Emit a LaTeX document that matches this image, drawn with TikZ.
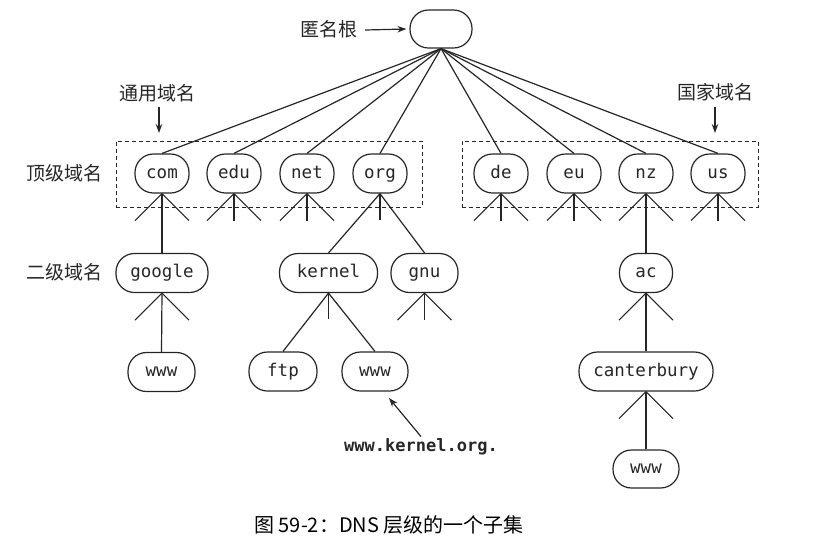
\documentclass[tikz,border=0pt]{standalone}
\usepackage{fontspec}
\setmonofont{DejaVu Sans Mono}
\newfontfamily\cjk{Noto Sans CJK SC}
\usetikzlibrary{arrows.meta}
\begin{document}
\begin{tikzpicture}[x=1pt,y=-1pt,
  ln/.style={line width=1.2pt, draw=black!85},
  dn/.style={draw=black!85, line width=1.2pt, rounded corners=18.5pt, minimum height=39pt,
    inner sep=0pt, text height=10pt, text depth=0.6pt,
    font=\fontsize{17.5}{18}\selectfont\ttfamily, text=black!85},
  lab/.style={inner sep=0pt, text height=16pt, text depth=3pt, font=\cjk\fontsize{19}{19}\selectfont, text=black!85},
  arr/.style={line width=1.2pt, draw=black!85, -{Stealth[length=9pt,width=6.5pt]}},
  dbox/.style={draw=black!85, line width=0.9pt, dash pattern=on 4pt off 3pt, inner sep=0pt}
]
\useasboundingbox (0,0) rectangle (814,558);

% dashed group boxes
\node[dbox, minimum width=306pt, minimum height=66pt] (gbox) at (269,174) {};
\node[dbox, minimum width=296pt, minimum height=66pt] (cbox) at (610,174) {};

% root
\node[dn, minimum width=62pt, minimum height=38pt] (root) at (441,29) {};

% top-level domains
\foreach \n/\x in {com/162,edu/234,net/307,org/380,de/501,eu/574,nz/646,us/718}
  \node[dn, minimum width=54pt] (\n) at (\x,173.5) {\n};

% second level
\node[dn, minimum width=92pt] (google) at (162,273) {google};
\node[dn, minimum width=98pt] (kernel) at (328.5,273) {kernel};
\node[dn, minimum width=67pt] (gnu) at (424.5,273) {gnu};
\node[dn, minimum width=53pt] (ac) at (646,273) {ac};

% third level
\node[dn, minimum width=67pt] (wwwg) at (161.5,372) {www};
\node[dn, minimum width=68pt] (ftp) at (283,371.5) {ftp};
\node[dn, minimum width=66pt] (wwwk) at (375,371.5) {www};
\node[dn, minimum width=134pt] (cant) at (646,371.5) {canterbury};
\node[dn, minimum width=66pt, minimum height=38pt] (wwwc) at (646,469) {www};

% root to TLDs
\foreach \n in {com,edu,net,org,de,eu,nz,us}
  \draw[ln] (root.south) -- (\n.north);

% full fans (three stubs)
\foreach \n in {edu,net,de,eu,us,gnu}{
  \draw[ln] (\n.south) -- ++(-27,27);
  \draw[ln] (\n.south) -- ++(0,27);
  \draw[ln] (\n.south) -- ++(27,27);
}
% side stubs only
\foreach \n in {com,nz,google,ac,cant}{
  \draw[ln] (\n.south) -- ++(-27,27);
  \draw[ln] (\n.south) -- ++(27,27);
}
% centre stubs only
\foreach \n in {org,kernel}
  \draw[ln] (\n.south) -- ++(0,26);

% tree edges
\draw[ln] (com.south) -- (google.north);
\draw[ln] (org.south) -- (kernel.north);
\draw[ln] (org.south) -- (gnu.north);
\draw[ln] (nz.south) -- (ac.north);
\draw[ln] (google.south) -- (wwwg.north);
\draw[ln] (kernel.south) -- (ftp.north);
\draw[ln] (kernel.south) -- (wwwk.north);
\draw[ln] (ac.south) -- (cant.north);
\draw[ln] (cant.south) -- (wwwc.north);

% labels
\node[lab] (anon) at (328.5,30) {匿名根};
\draw[arr] ([xshift=8pt]anon.east) -- ([xshift=-3pt]root.west);

\node[lab] (gen) at (157,94) {通用域名};
\coordinate (genTip) at (159,133);
\draw[arr] ([yshift=-3.5pt]gen.south -| genTip) -- (genTip);

\node[lab] (ctry) at (715,93) {国家域名};
\coordinate (ctryTip) at (715,133);
\draw[arr] ([yshift=-4.5pt]ctry.south -| ctryTip) -- (ctryTip);

\node[lab] (tld) at (64.5,174) {顶级域名};
\node[lab] (sld) at (65,273) {二级域名};

\node[inner sep=0pt, font=\fontsize{17}{18}\selectfont\ttfamily\bfseries, text=black!85] (fqdn) at (421,447) {www.kernel.org.};
\coordinate (fqdnTip) at (389,398);
\draw[arr] ([yshift=2pt]fqdn.north) -- (fqdnTip);

\node[inner sep=0pt, font=\cjk\fontsize{20}{20}\selectfont] (cap) at (389,525) {图 59-2：DNS 层级的一个子集};
\end{tikzpicture}
\end{document}
